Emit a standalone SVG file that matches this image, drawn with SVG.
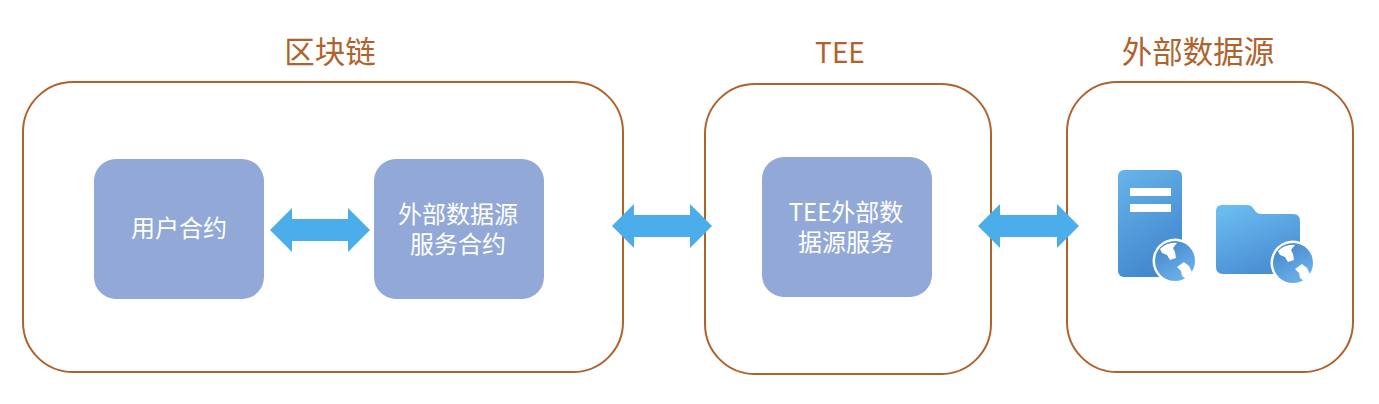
<svg xmlns="http://www.w3.org/2000/svg" width="1379" height="404" viewBox="0 0 1379 404">
<style>
.box{fill:#fff;stroke:#b0622c;stroke-width:2}
.inner{fill:#92a9d8}
.title{font-family:"Noto Sans CJK SC","Liberation Sans",sans-serif;font-size:30.5px;fill:#b0622c;text-anchor:middle}
.label{font-family:"Noto Sans CJK SC","Liberation Sans",sans-serif;font-size:24px;fill:#fff;text-anchor:middle}
.arrow{fill:#4baeea}
</style>
<defs>
<linearGradient id="srv" x1="0" y1="0" x2="0.4" y2="1"><stop offset="0" stop-color="#66b5ea"/><stop offset="1" stop-color="#4488cf"/></linearGradient>
<linearGradient id="fld" x1="0" y1="0" x2="0.5" y2="1"><stop offset="0" stop-color="#6dc0f2"/><stop offset="1" stop-color="#4a8ed4"/></linearGradient>
<linearGradient id="glb" x1="0" y1="0" x2="0.6" y2="1"><stop offset="0" stop-color="#3f83c8"/><stop offset="1" stop-color="#6cb0ea"/></linearGradient>
<g id="globe">
<circle r="22.5" fill="#fff"/>
<circle r="20" fill="url(#glb)"/>
<path d="M-15,-12 C-10,-17 -4,-19 2,-18 L-2,-13 L0,-9 L1,-3 L-5,-1 L-8,-6 L-13,-8 Z" fill="#fff"/>
<path d="M2,6 L9,1 L14,5 L17,11 L11,18 L7,15 L6,10 Z" fill="#fff"/>
</g>
</defs>
<g id="blockchain">
<rect class="box" x="23" y="82" width="600" height="290" rx="50"/>
<text class="title" x="330" y="63">区块链</text>
</g>
<g id="tee">
<rect class="box" x="705" y="84" width="286" height="290" rx="50"/>
<text class="title" x="840" y="63" style="font-size:28px">TEE</text>
</g>
<g id="external">
<rect class="box" x="1067" y="82" width="286" height="290" rx="50"/>
<text class="title" x="1198" y="63">外部数据源</text>
</g>
<g id="user-contract">
<rect class="inner" x="94" y="159" width="170" height="140" rx="22"/>
<text class="label" x="179" y="237">用户合约</text>
</g>
<g id="service-contract">
<rect class="inner" x="374" y="159" width="170" height="140" rx="22"/>
<text class="label"><tspan x="458" y="223">外部数据源</tspan><tspan x="458" y="253">服务合约</tspan></text>
</g>
<g id="tee-service">
<rect class="inner" x="762" y="157" width="170" height="140" rx="22"/>
<text class="label"><tspan x="846" y="221">TEE外部数</tspan><tspan x="846" y="251">据源服务</tspan></text>
</g>
<g id="connectors">
<path class="arrow" d="M270,230 L292,208 V219 H348 V208 L370,230 L348,252 V241 H292 V252 Z"/>
<path class="arrow" d="M612,226 L634,204 V215 H690 V204 L712,226 L690,248 V237 H634 V248 Z"/>
<path class="arrow" d="M978,226 L1000,204 V215 H1057 V204 L1079,226 L1057,248 V237 H1000 V248 Z"/>
</g>
<g id="icons">
<rect x="1118" y="170" width="64" height="107" rx="6" fill="url(#srv)"/>
<rect x="1130" y="188" width="41" height="8" fill="#fff"/>
<rect x="1130" y="204" width="41" height="8" fill="#fff"/>
<use href="#globe" x="1175" y="261"/>
<path d="M1222,205 H1247 Q1251,205 1253,208 L1256,212 Q1258,214 1261,214 H1293 Q1300,214 1300,221 V267 Q1300,274 1293,274 H1223 Q1216,274 1216,267 V211 Q1216,205 1222,205 Z" fill="url(#fld)"/>
<use href="#globe" x="1293" y="263"/>
</g>
</svg>
